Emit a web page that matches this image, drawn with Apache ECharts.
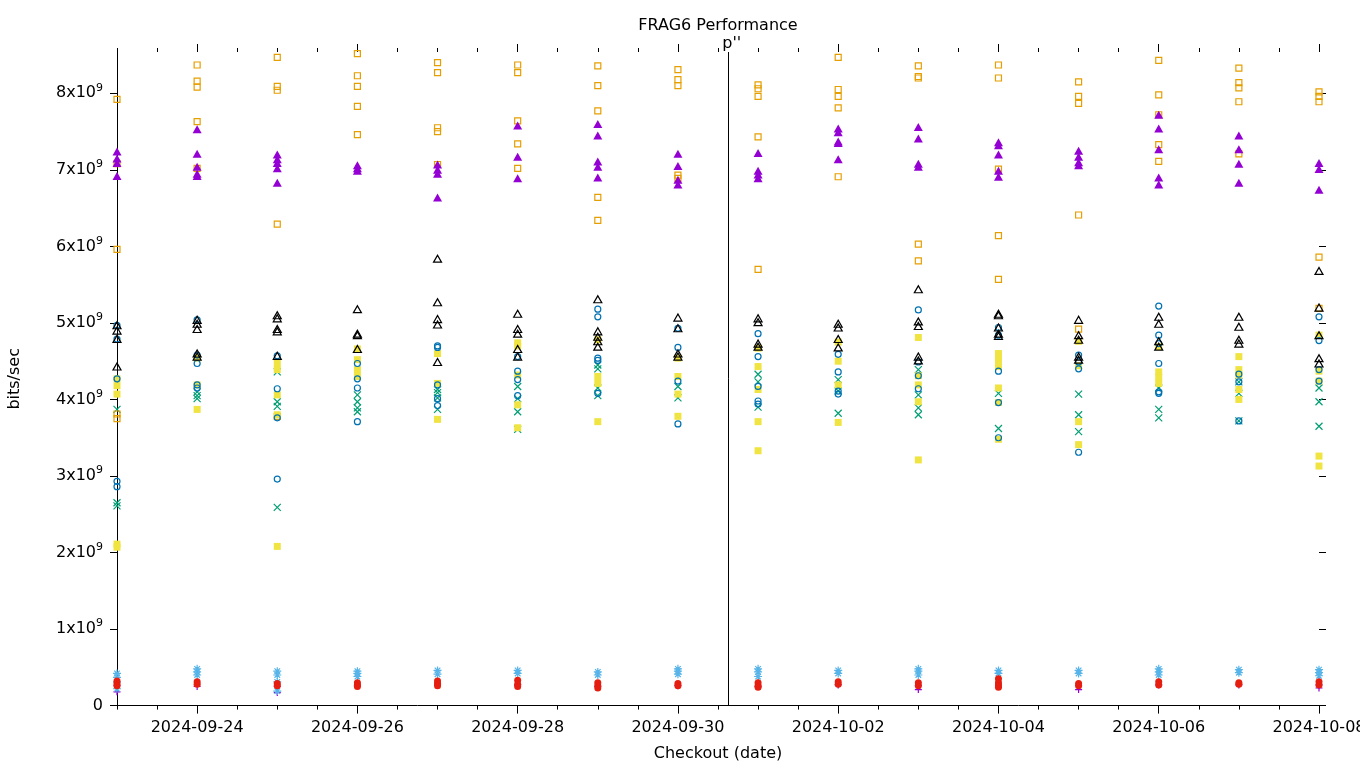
<!DOCTYPE html>
<html><head><meta charset="utf-8">
<script src="https://cdn.jsdelivr.net/npm/echarts@6/dist/echarts.min.js"></script>
<style>html,body{margin:0;padding:0;background:#fff}#c{width:1360px;height:768px}</style>
</head><body><div id="c"></div>
<script>
// ---- data (values in units of 1e9 bits/sec) ----
const dates = ['2024-09-23','2024-09-24','2024-09-25','2024-09-26','2024-09-27','2024-09-28','2024-09-29','2024-09-30',
               '2024-10-01','2024-10-02','2024-10-03','2024-10-04','2024-10-05','2024-10-06','2024-10-07','2024-10-08'];
const xTickLabels = ['2024-09-24','2024-09-26','2024-09-28','2024-09-30','2024-10-02','2024-10-04','2024-10-06','2024-10-08'];
const yTicks = [0,1,2,3,4,5,6,7,8];
const yUnit = 1e9;
const markerDate = '2024-09-30T15:13:00Z';
const markerText = "p''";
const titleText = 'FRAG6 Performance';
const xName = 'Checkout (date)';
const yName = 'bits/sec';

const plusPurple = [[0.18,0.26],[0.25],[0.17,0.25],[0.26],[0.27],[0.27],[0.25],[0.26],[0.25],[0.27],[0.21,0.26],[0.27],[0.21,0.26],[0.27],[0.27],[0.23,0.27]];
const crossGreen = [[3.87,2.65,2.61],[4.10,4.05,4.01],[4.36,3.97,3.91,2.59],[4.06,3.97,3.89,3.84],[4.13,4.09,4.02,3.87],[4.17,4.01,3.84,3.61],
  [4.45,4.40,4.15,4.05],[4.17,4.02],[4.33,4.23,3.90],[4.26,4.11,3.82],[4.39,4.06,3.89,3.80],[4.08,3.62],[4.07,3.80,3.58],[4.15,3.87,3.76],[4.23,4.08,3.72],[4.15,3.97,3.65]];
const starBlue = [[0.42,0.37,0.31,0.22],[0.48,0.44,0.40],[0.45,0.40,0.31,0.19],[0.45,0.42,0.38],[0.46,0.41],[0.46,0.42],[0.44,0.40],[0.48,0.45,0.41],
  [0.48,0.44,0.38],[0.46,0.42],[0.48,0.45,0.40],[0.46,0.42],[0.46,0.42],[0.48,0.44,0.40],[0.47,0.43],[0.47,0.43,0.39]];
const squareOrange = [[7.92,7.08,5.96,3.81,3.75],[8.37,8.16,8.08,7.63,7.02],[8.47,8.09,8.04,6.29,3.78],[8.52,8.23,8.09,7.83,7.46],
  [8.40,8.27,7.55,7.50,7.07],[8.37,8.27,7.64,7.34,7.02],[8.36,8.10,7.77,6.64,6.34],[8.31,8.18,8.10,6.93,6.89],
  [8.11,8.06,7.96,7.43,5.70],[8.47,8.05,7.96,7.81,6.91],[8.36,8.22,8.20,6.03,5.81],[8.37,8.20,7.01,6.14,5.57],
  [8.15,7.96,7.87,6.41,4.92],[8.43,7.98,7.72,7.33,7.11],[8.33,8.14,8.07,7.89,7.21],[8.02,7.96,7.89,5.86,5.19]];
const squareYellow = [[4.27,4.18,4.07,2.11,2.07],[4.54,4.19,3.87],[4.47,4.39,4.06,3.80,2.08],[4.66,4.52,4.39,4.30],[4.60,4.21,3.74],
  [4.74,4.70,4.32,3.93,3.63],[4.78,4.30,4.21,3.71],[4.54,4.30,4.07,3.78],[4.67,4.43,4.13,3.71,3.33],[4.75,4.50,4.19,3.70],
  [4.81,4.31,4.19,3.97,3.21],[4.60,4.52,4.43,4.15,3.96,3.48],[4.76,4.44,3.71,3.41],[4.69,4.36,4.29,4.21],[4.56,4.39,4.32,4.13,4.00],[4.84,4.37,4.24,3.26,3.13]];
const circleBlue = [[4.97,4.79,4.27,2.93,2.86],[5.04,4.58,4.47,4.19,4.15],[4.57,4.14,3.76,2.96],[4.47,4.27,4.15,3.71],[4.70,4.68,4.19,4.01,3.92],
  [4.56,4.37,4.26,4.05],[5.18,5.08,4.54,4.51,4.08],[4.93,4.68,4.24,3.68],[4.86,4.56,4.17,3.98,3.94],[4.59,4.36,4.11,4.07],
  [5.17,4.49,4.31,4.14],[4.94,4.84,4.37,3.96,3.50],[4.58,4.49,4.40,3.31],[5.22,4.84,4.73,4.47,4.10,4.08],[4.33,4.23,3.72],[5.08,4.77,4.39,4.24]];
const circleRed = [[0.32,0.29,0.26],[0.31,0.28],[0.29,0.26],[0.30,0.27,0.25],[0.32,0.29,0.26],[0.33,0.28,0.25],[0.30,0.26,0.23],[0.29,0.26],
  [0.30,0.26,0.24],[0.31,0.28],[0.30,0.26],[0.35,0.30,0.26,0.24],[0.29,0.26],[0.31,0.27],[0.30,0.28],[0.31,0.27]];
const triangleBlack = [[4.97,4.90,4.79,4.43],[5.04,4.99,4.92,4.60,4.56],[5.10,5.06,4.92,4.89,4.57],[5.18,4.86,4.84,4.66],[5.84,5.27,5.05,4.98,4.49],
  [5.12,4.92,4.86,4.66,4.56],[5.31,4.89,4.82,4.76,4.69],[5.07,4.93,4.60,4.56],[5.06,5.01,4.73,4.69],[4.99,4.94,4.79,4.68],
  [5.44,5.02,4.96,4.56,4.51],[5.12,5.10,4.94,4.86,4.83],[5.04,4.84,4.78,4.56,4.52],[5.08,4.99,4.76,4.69],[5.08,4.95,4.78,4.73],[5.68,5.20,4.84,4.54,4.47]];
const trianglePurple = [[7.24,7.15,7.09,6.92],[7.53,7.21,7.04,6.95,6.92],[7.20,7.14,7.09,7.02,6.83],[7.06,7.02,6.99],[7.07,7.00,6.95,6.64],
  [7.58,7.17,6.89],[7.60,7.45,7.11,7.04,6.90],[7.21,7.05,6.87,6.81],[7.22,6.99,6.94,6.89],[7.54,7.49,7.37,7.35,7.14],
  [7.56,7.41,7.08,7.04],[7.36,7.32,7.20,6.99,6.91],[7.25,7.17,7.10,7.06],[7.72,7.54,7.27,6.90,6.81],[7.45,7.27,7.08,6.83],[7.09,7.01,6.74]];

// ---- build ----
const FONT = 'DejaVu Sans';
const t0 = Date.parse(dates[0]);
const t1 = Date.parse(dates[dates.length - 1]);
const HALF_DAY = 43200000;
function pts(arr) {
  const out = [];
  arr.forEach((vals, i) => vals.forEach(v => out.push([Date.parse(dates[i]), v * yUnit])));
  return out;
}
const majorX = xTickLabels.map(d => Date.parse(d));
const yVals = yTicks.map(v => v * yUnit);
const yMax = 8.54e9;

const PLUS = 'path://M5,0V10M0,5H10';
const CROSS = 'path://M0,0L10,10M10,0L0,10';
const STAR = 'path://M5,0V10M0,5H10M1.5,1.5L8.5,8.5M8.5,1.5L1.5,8.5';
const CLEAR = 'rgba(0,0,0,0)';

function outline(col) { return {color: CLEAR, borderColor: col, borderWidth: 1.2, opacity: 1}; }
function filled(col) { return {color: col, borderWidth: 0, opacity: 1}; }

const seriesDefs = [
  {name: 'plus', data: plusPurple, symbol: PLUS, size: 7, style: outline('#9400d3')},
  {name: 'cross', data: crossGreen, symbol: CROSS, size: 7, style: outline('#009e73')},
  {name: 'star', data: starBlue, symbol: STAR, size: 8, style: outline('#56b4e9')},
  {name: 'openSquare', data: squareOrange, symbol: 'rect', size: 6, style: outline('#e69f00')},
  {name: 'fillSquare', data: squareYellow, symbol: 'rect', size: 7, style: filled('#f0e442')},
  {name: 'openCircle', data: circleBlue, symbol: 'circle', size: 6, style: outline('#0072b2')},
  {name: 'fillCircle', data: circleRed, symbol: 'circle', size: 7, style: filled('#e51e10')},
  {name: 'openTriangle', data: triangleBlack, symbol: 'triangle', size: [8, 7], style: outline('#000000')},
  {name: 'fillTriangle', data: trianglePurple, symbol: 'triangle', size: [9, 8], style: filled('#9400d3')}
];

const series = seriesDefs.map(d => ({
  type: 'scatter', name: d.name, xAxisIndex: 0, yAxisIndex: 0,
  symbol: d.symbol, symbolSize: d.size, itemStyle: d.style,
  data: pts(d.data), emphasis: {disabled: true}, silent: true
}));
series.push({
  type: 'scatter', name: 'marker', xAxisIndex: 0, yAxisIndex: 0, data: [], silent: true,
  markLine: {
    symbol: ['none', 'none'], silent: true, animation: false,
    lineStyle: {color: '#000', width: 1, type: 'solid', opacity: 1},
    label: {show: true, position: 'end', formatter: markerText, color: '#000', fontFamily: FONT, fontSize: 16,
      distance: 0, offset: [3, 0]},
    data: [{xAxis: Date.parse(markerDate)}]
  }
});

const noLine = {show: false, onZero: false};
const xBase = {type: 'value', min: t0, max: t1, gridIndex: 0, splitLine: {show: false}};
const xAxes = [
  Object.assign({}, xBase, {
    position: 'bottom',
    axisLine: {show: true, onZero: false, lineStyle: {color: '#000', width: 1}},
    axisTick: {show: true, inside: false, length: 8, customValues: majorX, lineStyle: {color: '#000'}},
    axisLabel: {show: true, customValues: majorX, margin: 14, color: '#000', fontFamily: FONT, fontSize: 16,
      formatter: v => new Date(v).toISOString().slice(0, 10)},
    name: xName, nameLocation: 'middle', nameGap: 40,
    nameTextStyle: {color: '#000', fontFamily: FONT, fontSize: 16}
  }),
  Object.assign({}, xBase, {
    position: 'bottom', interval: HALF_DAY, axisLine: noLine,
    axisTick: {show: true, length: 4, lineStyle: {color: '#000'}}, axisLabel: {show: false}
  }),
  Object.assign({}, xBase, {
    position: 'top', interval: HALF_DAY, axisLine: noLine,
    axisTick: {show: true, length: 4, lineStyle: {color: '#000'}}, axisLabel: {show: false}
  }),
  Object.assign({}, xBase, {
    position: 'top', axisLine: noLine,
    axisTick: {show: true, length: 8, customValues: majorX, lineStyle: {color: '#000'}}, axisLabel: {show: false}
  })
];

const yBase = {type: 'value', min: 0, max: yMax, gridIndex: 0, splitLine: {show: false}};
const yAxes = [
  Object.assign({}, yBase, {
    position: 'left',
    axisLine: {show: true, onZero: false, lineStyle: {color: '#000', width: 1}},
    axisTick: {show: true, length: 7, customValues: yVals, lineStyle: {color: '#000'}},
    axisLabel: {show: true, customValues: yVals, margin: 14, color: '#000', fontFamily: FONT, fontSize: 16,
      formatter: v => v === 0 ? '0' : '{a|' + Math.round(v / yUnit) + 'x10}{b|9}',
      rich: {a: {fontFamily: FONT, fontSize: 16, lineHeight: 22, color: '#000'},
             b: {fontFamily: FONT, fontSize: 11, lineHeight: 11, verticalAlign: 'top', color: '#000'}}},
    name: yName, nameLocation: 'middle', nameGap: 94,
    nameTextStyle: {color: '#000', fontFamily: FONT, fontSize: 16}
  }),
  Object.assign({}, yBase, {
    position: 'right', axisLine: noLine,
    axisTick: {show: true, length: 7, customValues: yVals, lineStyle: {color: '#000'}}, axisLabel: {show: false}
  })
];

const chart = echarts.init(document.getElementById('c'), null, {renderer: 'canvas'});
chart.setOption({
  animation: false,
  backgroundColor: '#fff',
  title: {text: titleText, left: 713, top: 13, textAlign: 'center',
    textStyle: {color: '#000', fontFamily: FONT, fontSize: 16, fontWeight: 'normal'}},
  grid: {left: 117, right: 41, top: 52, bottom: 62.4, containLabel: false, outerBoundsMode: 'none'},
  xAxis: xAxes,
  yAxis: yAxes,
  series: series
});
</script>
</body></html>
